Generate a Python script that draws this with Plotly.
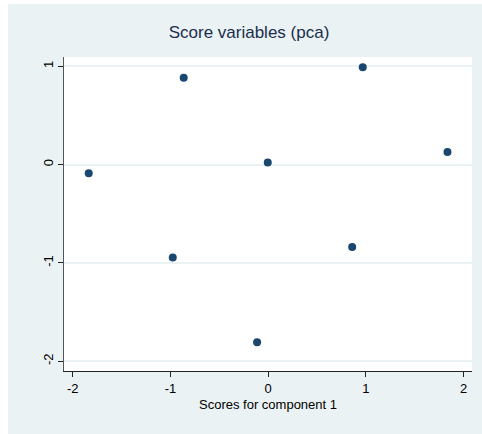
import plotly.graph_objects as go

# Data
scores_c1 = [-0.864, 0.968, -0.004, -1.836, 1.835, -0.976, 0.860, -0.113]
scores_c2 = [0.884, 0.990, 0.023, -0.088, 0.128, -0.945, -0.837, -1.806]
x_ticks = [-2, -1, 0, 1, 2]
y_ticks = [-2, -1, 0, 1]

bg = "#EAF2F3"
navy = "#1a476f"

W, H = 474, 428

fig = go.Figure()
fig.add_trace(go.Scatter(
    x=scores_c1, y=scores_c2, mode="markers",
    marker=dict(color=navy, size=8, line=dict(width=0)),
    showlegend=False, hoverinfo="x+y",
))

fig.update_layout(
    width=W, height=H,
    paper_bgcolor=bg, plot_bgcolor="white",
    margin=dict(l=56, r=10, t=53, b=61),
    font=dict(family="Liberation Sans, Arial, sans-serif", size=13, color="black"),
    title=dict(text="Score variables (pca)", x=241 / W, xref="container", xanchor="center",
               y=1 - 28 / H, yref="container", yanchor="middle",
               font=dict(size=17, color="#1a2e4f")),
    xaxis=dict(range=[-2.089, 2.086], tickvals=x_ticks, ticktext=[str(v) for v in x_ticks],
               showgrid=False, zeroline=False, showline=True, linecolor="#222", linewidth=1,
               ticks="outside", ticklen=5, tickcolor="#222", tickwidth=1, mirror=False),
    yaxis=dict(range=[-2.099, 1.095], tickvals=y_ticks, ticktext=[str(v) for v in y_ticks],
               showgrid=True, gridcolor=bg, gridwidth=1.5, zeroline=False,
               showline=True, linecolor="#555", linewidth=1,
               ticks="outside", ticklen=5, tickcolor="#222", tickwidth=1,
               tickangle=-90),
    annotations=[dict(text="Scores for component 1", x=0.5, xref="paper", y=0, yref="paper",
                      yshift=-33, yanchor="middle", xanchor="center", showarrow=False,
                      font=dict(size=13, color="black"))],
)

page_css = (
    "var b=document.body;b.style.margin='0';b.style.padding='0';"
    "b.style.background='" + bg + "';"
    "b.style.borderTop='4px solid white';b.style.borderLeft='8px solid white';"
)

fig.write_html("out.html", config={"displayModeBar": False}, post_script=page_css)
